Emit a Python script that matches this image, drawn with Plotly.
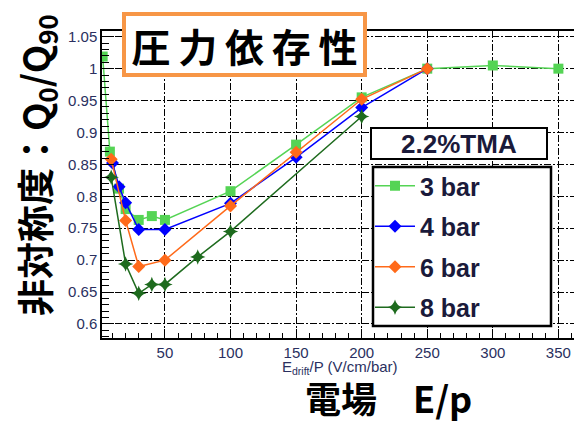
import plotly.graph_objects as go

# ---- data ----
x_3bar = [2.5, 8, 15, 20, 30, 40, 50, 100, 150, 200, 250, 300, 350]
y_3bar = [1.019, 0.870, 0.812, 0.780, 0.763, 0.769, 0.763, 0.808, 0.881, 0.955, 1.000, 1.005, 1.000]
x_4bar = [10, 15, 20, 30, 50, 100, 150, 200, 250]
y_4bar = [0.852, 0.815, 0.790, 0.748, 0.748, 0.789, 0.861, 0.939, 1.000]
x_6bar = [9, 20, 30, 50, 100, 150, 200, 250]
y_6bar = [0.858, 0.762, 0.690, 0.700, 0.785, 0.869, 0.952, 1.000]
x_8bar = [9, 20, 30, 40, 50, 75, 100, 200]
y_8bar = [0.830, 0.694, 0.648, 0.662, 0.662, 0.705, 0.745, 0.925]

series_names = ["3 bar", "4 bar", "6 bar", "8 bar"]
xtick_vals = [50, 100, 150, 200, 250, 300, 350]
ytick_vals = [0.6, 0.65, 0.7, 0.75, 0.8, 0.85, 0.9, 0.95, 1.0, 1.05]
ytick_text = ["0.6", "0.65", "0.7", "0.75", "0.8", "0.85", "0.9", "0.95", "1", "1.05"]

colors = ["#55D455", "#0000FF", "#FF6A1A", "#1E6B1E"]
symbols = ["square", "diamond", "diamond", "star-diamond"]
sizes = [10, 10, 10, 11]

fig = go.Figure()
for name, xs, ys, c, s, sz in zip(series_names,
                                  [x_3bar, x_4bar, x_6bar, x_8bar],
                                  [y_3bar, y_4bar, y_6bar, y_8bar],
                                  colors, symbols, sizes):
    fig.add_trace(go.Scatter(x=xs, y=ys, name=name, mode="lines+markers", legendgroup=name,
                             line=dict(color=c, width=1.5),
                             marker=dict(color=c, symbol=s, size=sz, line=dict(width=0))))

tickfont = dict(family="Liberation Sans, Arial", size=15, color="#2A3060")
grid = dict(showgrid=True, gridcolor="#000000", gridwidth=1, griddash="7px,2px,2px,2px")

# page offset (browser default body margin)
OFF = 8
FW, FH = 582 - OFF, 424 - OFF
# plot area in reference-pixel coordinates
L, R, T, B = 102, 582, 31, 338
W, H = R - L, B - T
def px(xp):
    return (xp - L) / W
def py(yp):
    return (B - yp) / H

fig.update_layout(
    width=FW, height=FH,
    margin=dict(l=L - OFF, r=FW - (R - OFF), t=T - OFF, b=FH - (B - OFF)),
    paper_bgcolor="white", plot_bgcolor="white",
    showlegend=True,
    legend=dict(x=px(370), y=py(163), xanchor="left", yanchor="top",
                bgcolor="rgba(0,0,0,0)", borderwidth=0,
                font=dict(family="Liberation Sans, Arial", size=25, color="#1A1A3A", weight="bold"),
                itemwidth=40, tracegroupgap=5,
                traceorder="grouped"),
    xaxis=dict(range=[2, 368], tickvals=xtick_vals, tickfont=tickfont, automargin=False,
               ticks="inside", ticklen=9, tickcolor="black",
               minor=dict(ticks="inside", dtick=10, tick0=0, ticklen=5, tickcolor="black", showgrid=False),
               showline=True, linecolor="black", linewidth=1.5, mirror=True,
               zeroline=False, **grid),
    yaxis=dict(range=[0.578, 1.059], tickvals=ytick_vals, ticktext=ytick_text, tickfont=tickfont,
               automargin=False,
               ticks="inside", ticklen=12, tickcolor="black",
               minor=dict(ticks="inside", dtick=0.01, tick0=0, ticklen=7, tickcolor="black", showgrid=False),
               showline=True, linecolor="black", linewidth=1.5,
               zeroline=False, **grid),
)

# legend frame
fig.add_shape(type="rect", xref="paper", yref="paper",
              x0=px(373), x1=px(551), y0=py(326), y1=py(167),
              line=dict(color="black", width=2.5), fillcolor="white", layer="above")
# Y title
fig.add_annotation(text="非対称度：Q<sub>0</sub>/Q<sub>90</sub>", textangle=-90,
                   xref="paper", yref="paper", x=px(36), y=py(165), xanchor="center", yanchor="middle",
                   showarrow=False,
                   font=dict(family="Noto Sans CJK JP", size=37, color="black", weight="bold"))
# small x title
fig.add_annotation(text="E<sub>drift</sub>/P (V/cm/bar)", xref="paper", yref="paper",
                   x=px(340), y=py(367), xanchor="center", yanchor="middle", showarrow=False,
                   font=dict(family="Liberation Sans, Arial", size=15, color="#2A3060"))
# big x title
fig.add_annotation(text="電場　E/p", xref="paper", yref="paper",
                   x=px(388), y=py(397), xanchor="center", yanchor="middle", showarrow=False,
                   font=dict(family="Noto Sans CJK JP", size=36, color="black", weight="bold"))
# title box
fig.add_annotation(text="圧\u2009力\u2009依\u2009存\u2009性", xref="paper", yref="paper",
                   x=px(122), y=py(12), xanchor="left", yanchor="top", showarrow=False,
                   width=237, height=57,
                   bgcolor="white", bordercolor="#F79646", borderwidth=4, borderpad=0,
                   font=dict(family="Noto Sans CJK JP", size=39, color="black", weight="bold"))
# legend header box
fig.add_annotation(text="2.2%TMA", xref="paper", yref="paper",
                   x=px(370), y=py(127), xanchor="left", yanchor="top", showarrow=False,
                   width=174, height=29,
                   bgcolor="white", bordercolor="black", borderwidth=2, borderpad=0,
                   font=dict(family="Liberation Sans, Arial", size=26, color="#1A1A3A", weight="bold"))

fig.write_html("out.html")
